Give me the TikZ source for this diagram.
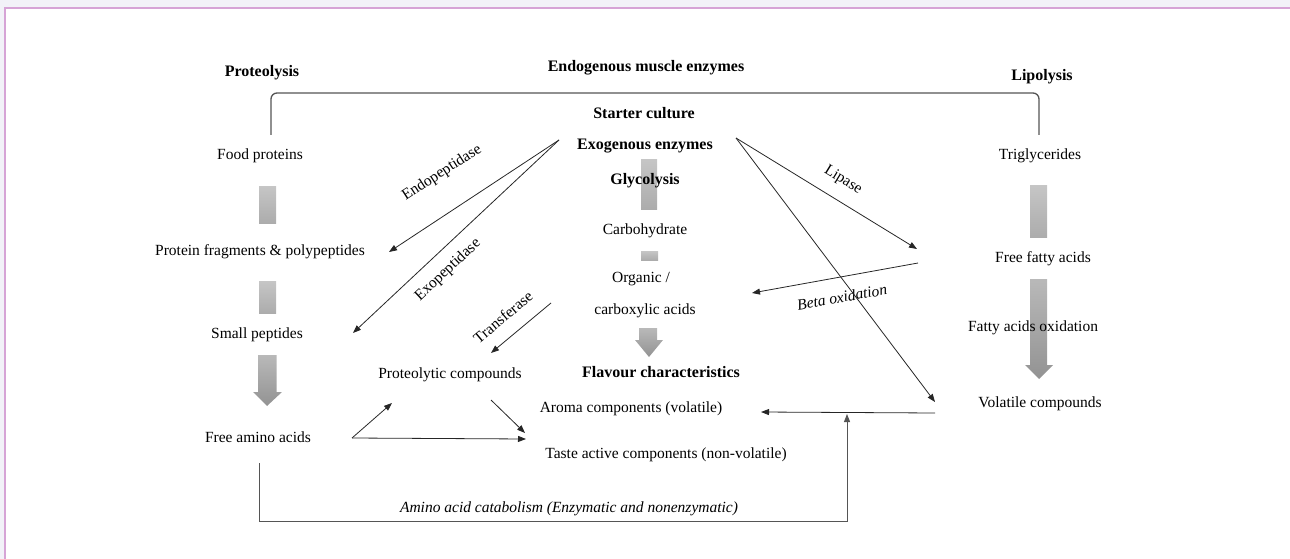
\documentclass[tikz,border=0pt]{standalone}
\usepackage{fontspec}
\setmainfont{Liberation Serif}
\usetikzlibrary{arrows.meta}
\definecolor{bandgray}{RGB}{242,242,248}
\definecolor{framepink}{RGB}{214,164,214}
\definecolor{linkgray}{RGB}{85,85,85}

\begin{document}
\begin{tikzpicture}
        [x=1pt,y=-1pt,
        every node/.style={font=\fontsize{15.5}{18}\selectfont,inner sep=1pt},
        head/.style={font=\fontsize{16}{19}\selectfont\bfseries},
        itlbl/.style={font=\fontsize{15.5}{18}\selectfont\itshape},
        link/.style={draw=black!85,line width=0.8pt,-{Triangle[length=8pt,width=6pt]}},
        bar/.style={top color=gray!45,bottom color=gray!65},
        fat/.style={top color=gray!55,bottom color=gray!85}]
        \useasboundingbox (0,0) rectangle (1290,559);
        \fill[bandgray] (0,0) rectangle (1290,7.3);
        \fill[bandgray] (0,0) rectangle (4.3,559);
        \draw[framepink,line width=2pt] (5.3,559) |- (1290,8.3);

        \shade[bar] (259,186) rectangle (276,223);
        \shade[bar] (259,281) rectangle (276,313);
        \shade[fat] (258,355) -- (276.5,355) -- (276.5,392) -- (282,392)
            -- (267,406) -- (253,392) -- (258,392) -- cycle;
        \shade[bar] (641,159) rectangle (657,209);
        \shade[bar] (641,251) rectangle (658,260);
        \shade[fat] (639,328) -- (657,328) -- (657,340) -- (663,340)
            -- (649,357) -- (635,340) -- (639,340) -- cycle;
        \shade[bar] (1030,185) rectangle (1047,237);
        \shade[fat] (1030,279) -- (1047,279) -- (1047,365) -- (1053,365)
            -- (1039,379) -- (1025,365) -- (1030,365) -- cycle;

        \node[head] (proteo) at (262,73) {Proteolysis};
        \node[head] (endo) at (646,68) {Endogenous muscle enzymes};
        \node[head] (lipo) at (1042,77) {Lipolysis};
        \node[head] (starter) at (644,113) {Starter culture};
        \node[head] (exo) at (645,146) {Exogenous enzymes};
        \node[head] (glyco) at (645,181) {Glycolysis};
        \node (carb) at (645,231) {Carbohydrate};
        \node (org) at (641,279) {Organic /};
        \node (carbox) at (645,311) {carboxylic acids};
        \node[head] (flav) at (661,372) {Flavour characteristics};
        \node (aroma) at (631,409) {Aroma components (volatile)};
        \node (taste) at (666,455) {Taste active components (non-volatile)};

        \node (food) at (260,156) {Food proteins};
        \node (frag) at (260,252) {Protein fragments \& polypeptides};
        \node (small) at (257,335) {Small peptides};
        \node (free) at (258,437) {Free amino acids};
        \node (ptc) at (450,375) {Proteolytic compounds};

        \node (trig) at (1040,156) {Triglycerides};
        \node (ffa) at (1043,259) {Free fatty acids};
        \node (faox) at (1033,328) {Fatty acids oxidation};
        \node (vol) at (1040,404) {Volatile compounds};

        \node[rotate=33] (lendo) at (442,173) {Endopeptidase};
        \node[rotate=43] (lexo) at (448,270) {Exopeptidase};
        \node[rotate=40] (ltrans) at (503,317) {Transferase};
        \node[rotate=-31.5] (llip) at (843,180) {Lipase};
        \node[itlbl,rotate=10] (lbeta) at (842,297) {Beta oxidation};
        \node[itlbl] (lcat) at (569,509) {Amino acid catabolism (Enzymatic and nonenzymatic)};

        \coordinate (brL) at (271,135);
        \coordinate (brR) at (1039,135);
        \coordinate (exoL) at (559,140);
        \coordinate (exoR) at (736,138);
        \coordinate (fragE) at (389,252);
        \coordinate (smallE) at (353,333);
        \coordinate (transS) at (551,303);
        \coordinate (ptcN) at (491,353);
        \coordinate (freeE) at (352,438);
        \coordinate (ptcW) at (392,403);
        \coordinate (tasteW) at (526,439);
        \coordinate (ptcS) at (491,400);
        \coordinate (tasteN) at (525,433);
        \coordinate (ffaW) at (917,249);
        \coordinate (ffaS) at (918,263);
        \coordinate (carboxE) at (752,293);
        \coordinate (volW) at (935,402);
        \coordinate (volS) at (935,413);
        \coordinate (aromaE) at (761,412);
        \coordinate (catS) at (259,463);
        \coordinate (catE) at (847,414);

        \draw[linkgray,line width=1.3pt,rounded corners=6pt] (brL) -- ++(0,-42) -| (brR);
        \draw[link] (exoL) -- (fragE);
        \draw[link] (exoL) -- (smallE);
        \draw[link] (transS) -- (ptcN);
        \draw[link] (freeE) -- (ptcW);
        \draw[link] (freeE) -- (tasteW);
        \draw[link] (ptcS) -- (tasteN);
        \draw[link] (exoR) -- (ffaW);
        \draw[link] (exoR) -- (volW);
        \draw[link] (ffaS) -- (carboxE);
        \draw[link] (volS) -- (aromaE);
        \draw[link,draw=linkgray,line width=1pt] (catS) -- ++(0,58) -| (catE);
    \end{tikzpicture}
\end{document}
